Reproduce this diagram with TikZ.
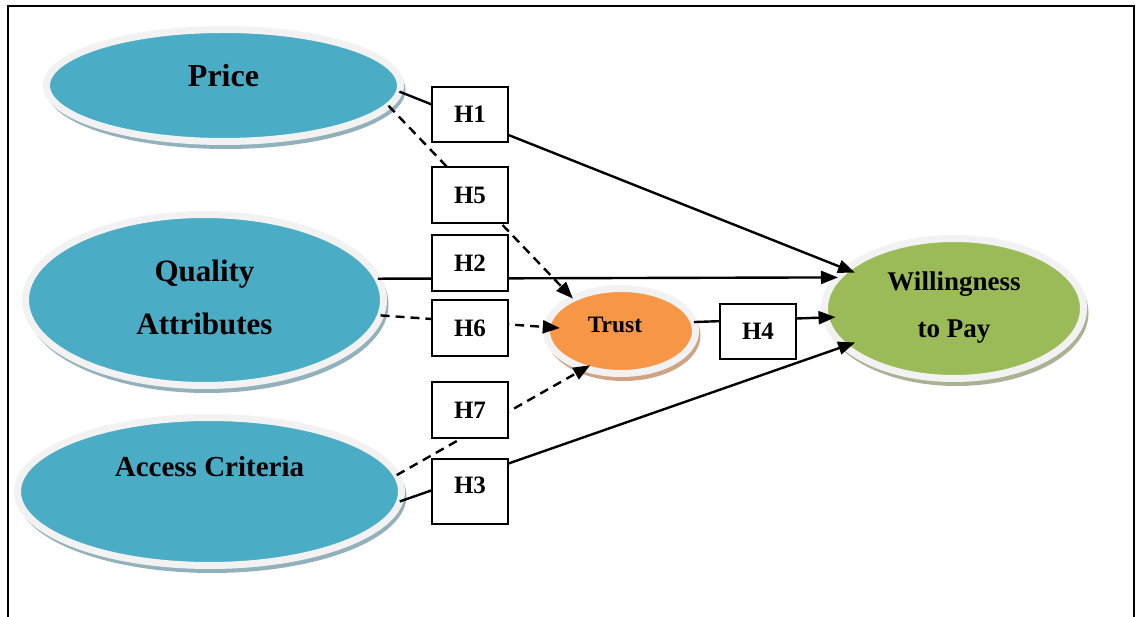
\documentclass[tikz,border=0pt]{standalone}
\usepackage{fontspec}
\setmainfont{Liberation Serif}
\usetikzlibrary{arrows.meta,shapes.geometric}
\definecolor{tealfill}{HTML}{4BACC6}
\definecolor{orangefill}{HTML}{F79646}
\definecolor{greenfill}{HTML}{9BBB59}
\definecolor{ringcol}{HTML}{F2F2F2}
\definecolor{tshad}{HTML}{93B1BB}
\definecolor{oshad}{HTML}{CFA383}
\definecolor{gshad}{HTML}{A9B393}
\newcommand{\eltext}[2]{\raisebox{#1}[0pt][0pt]{\makebox[0pt]{#2}}}
\begin{document}
\begin{tikzpicture}[x=1pt,y=-1pt,
  construct/.style={ellipse, draw=ringcol, line width=7pt, inner sep=0pt, outer sep=0pt, font=\bfseries},
  hyp/.style={draw=black, fill=white, line width=2pt, minimum width=76.5pt, minimum height=55.5pt, inner sep=0pt, font=\bfseries\fontsize{25}{30}\selectfont},
  link/.style={line width=2.4pt, -{Triangle[length=17pt,width=13pt]}},
  dlink/.style={link, dash pattern=on 9pt off 6pt},
  ]
\useasboundingbox (0,0) rectangle (1136,617);
% frame
\draw[line width=2.2pt] (8,617) -- (8,6) -- (1134,6) -- (1134,617);
% shadows
\fill[tshad] (226,90) ellipse [x radius=179.5pt, y radius=59pt];
\fill[tshad] (207,304.5) ellipse [x radius=181.5pt, y radius=88.5pt];
\fill[tshad] (212,496) ellipse [x radius=194.5pt, y radius=77pt];
\fill[oshad] (623.5,335.5) ellipse [x radius=77pt, y radius=45.5pt];
\fill[gshad] (956.5,313) ellipse [x radius=132pt, y radius=73pt];
% constructs
\node[construct, fill=tealfill, minimum width=354pt, minimum height=112pt] (price) at (223.5,85.5)
  {\fontsize{32}{38}\selectfont\eltext{-1.5pt}{Price}};
\node[construct, fill=tealfill, minimum width=358pt, minimum height=171pt] (quality) at (204.5,300)
  {\fontsize{31}{37}\selectfont\eltext{18pt}{Quality}\eltext{-35pt}{Attributes}};
\node[construct, fill=tealfill, minimum width=384pt, minimum height=148pt] (access) at (209.5,491.5)
  {\fontsize{29}{35}\selectfont\eltext{14.5pt}{Access Criteria}};
\node[construct, fill=orangefill, minimum width=149pt, minimum height=85pt] (trust) at (621,331)
  {\fontsize{23.5}{28}\selectfont\eltext{-2pt}{Trust\hspace{12pt}}};
\node[construct, fill=greenfill, minimum width=259pt, minimum height=140pt] (wtp) at (954,308.5)
  {\fontsize{27}{32}\selectfont\eltext{17.5pt}{Willingness}\eltext{-29.5pt}{to Pay}};
% connectors
\draw[link, shorten >=-9pt] (price.-2.1) -- (wtp.160.3);
\draw[link] (quality.7.8) -- (wtp.165);
\draw[link, shorten >=-11pt] (access.-3.15) -- (wtp.199.6);
\draw[link, shorten >=-10pt] (trust.7.2) -- (wtp.184.6);
\draw[dlink] (price.-7.6) -- (trust.146.6);
\draw[dlink, shorten >=-13pt] (quality.-5.8) -- (trust.177.2);
\draw[dlink, shorten >=-6pt] (access.5.25) -- (trust.226.9);
% hypothesis boxes
\node[hyp] (h1) at (470,114.5) {H1};
\node[hyp] (h5) at (470,195) {H5};
\node[hyp] (h2) at (470,263) {H2};
\node[hyp] (h6) at (470,328) {H6};
\node[hyp] (h7) at (470,410) {H7};
\node[hyp, minimum height=65.5pt] (h3) at (470,491.5) {\raisebox{-2.5pt}[0pt][0pt]{H3}};
\node[hyp] (h4) at (758,331.5) {H4};
\end{tikzpicture}
\end{document}
